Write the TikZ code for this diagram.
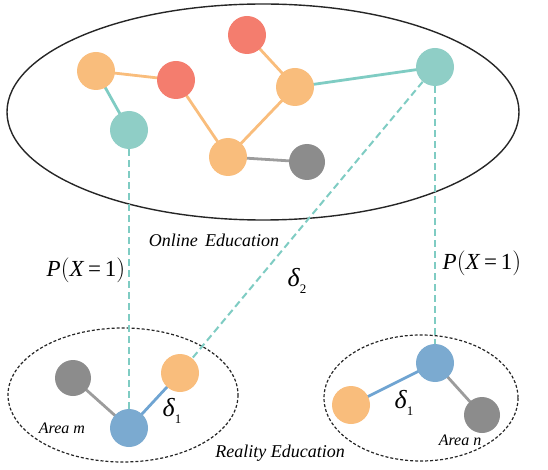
\documentclass[tikz,border=0pt]{standalone}
\usepackage{fontspec}
\setmainfont{Liberation Serif}
\begin{document}
\begin{tikzpicture}[x=1pt,y=-1pt,
  vert/.style={circle,minimum size=38pt,inner sep=0pt,draw=none},
  orangev/.style={vert,fill=orangeC},
  redv/.style={vert,fill=redC},
  tealv/.style={vert,fill=tealC},
  grayv/.style={vert,fill=grayC,minimum size=36pt},
  bluev/.style={vert,fill=blueC},
  oedge/.style={draw=orangeC,line width=2.8pt},
  tedge/.style={draw=tealL,line width=2.8pt},
  gedge/.style={draw=grayL,line width=2.8pt},
  bedge/.style={draw=blueL,line width=2.8pt},
  link/.style={draw=tealL,line width=2pt,dash pattern=on 7pt off 4pt},
  region/.style={draw=black!85,line width=1.4pt},
  area/.style={draw=black!85,line width=1.2pt,dash pattern=on 3pt off 2pt},
  lbl/.style={font=\itshape\fontsize{18}{20}\selectfont,inner sep=0pt},
  albl/.style={font=\itshape\fontsize{16}{18}\selectfont,inner sep=0pt},
  mlbl/.style={font=\fontsize{23}{25}\selectfont,inner sep=0pt},
  dlbl/.style={font=\fontsize{26}{28}\selectfont,inner sep=0pt}]
\definecolor{orangeC}{HTML}{F9BD7C}
\definecolor{redC}{HTML}{F47D6E}
\definecolor{tealC}{HTML}{8FCEC6}
\definecolor{grayC}{HTML}{8C8C8C}
\definecolor{blueC}{HTML}{7BAAD0}
\definecolor{tealL}{HTML}{7FCCC3}
\definecolor{grayL}{HTML}{9C9C9C}
\definecolor{blueL}{HTML}{6FA4D2}
\newcommand{\dsub}[1]{\textit{δ}\raisebox{-0.25em}{\fontsize{13}{14}\selectfont #1}}
\useasboundingbox (0,0) rectangle (548,470);

% regions
\draw[region] (263,112) ellipse [x radius=256, y radius=108];
\draw[area] (123,395) ellipse [x radius=115, y radius=67];
\draw[area] (421,398) ellipse [x radius=97, y radius=63];

% vertex positions
\foreach \v/\p in {a/{96,71},b/{176,80},c/{129,130},d/{247,35},
  e/{295,87},f/{435,67},g/{228,157},h/{307,162},
  i/{73,378},j/{129,428},k/{180,373},l/{435,363},
  m/{351,405},n/{482,415}}
  \coordinate (\v) at (\p);

% edges
\draw[oedge] (a) -- (b);
\draw[tedge] (a) -- (c);
\draw[oedge] (b) -- (g);
\draw[oedge] (g) -- (e);
\draw[oedge] (e) -- (d);
\draw[tedge] (e) -- (f);
\draw[gedge] (g) -- (h);
\draw[gedge] (i) -- (j);
\draw[bedge] (j) -- (k);
\draw[bedge] (m) -- (l);
\draw[gedge] (l) -- (n);

% vertices
\node[orangev] (va) at (a) {};
\node[redv]    (vb) at (b) {};
\node[tealv]   (vc) at (c) {};
\node[redv]    (vd) at (d) {};
\node[orangev] (ve) at (e) {};
\node[tealv]   (vf) at (f) {};
\node[orangev] (vg) at (g) {};
\node[grayv]   (vh) at (h) {};
\node[grayv]   (vi) at (i) {};
\node[bluev]   (vj) at (j) {};
\node[orangev] (vk) at (k) {};
\node[bluev]   (vl) at (l) {};
\node[orangev] (vm) at (m) {};
\node[grayv]   (vn) at (n) {};

% cross links
\draw[link] (vc.south) -- (vj.north);
\draw[link] (vf.south) -- (vl.north);
\draw[link] (vf) -- (vk);

% labels
\node[lbl] (t1) at (214,240) {Online\, Education};
\node[lbl] (t2) at (280,453) {Reality Education};
\node[albl] (t3) at (62,428) {Area m};
\node[albl] (t4) at (460,440) {Area n};
\node[mlbl] (p1) at (86,270) {\textit{P}$\bigl($\textit{X}\,=\,1$\bigr)$};
\node[mlbl] (p2) at (482,263) {\textit{P}$\bigl($\textit{X}\,=\,1$\bigr)$};
\node[dlbl] (d2) at (297,281) {\dsub{2}};
\node[dlbl] (d1a) at (172,411) {\dsub{1}};
\node[dlbl] (d1b) at (404,403) {\dsub{1}};
\end{tikzpicture}
\end{document}
